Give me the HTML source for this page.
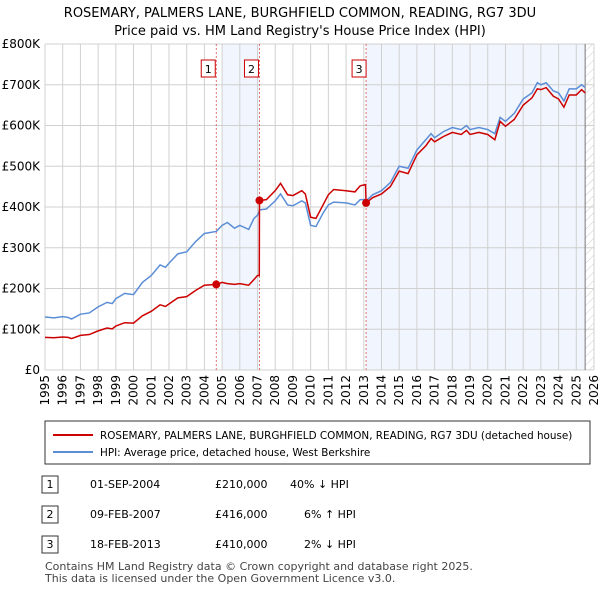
<!DOCTYPE html>
<html><head><meta charset="utf-8"><style>
body{margin:0;background:#fff;font-family:"DejaVu Sans","Liberation Sans",sans-serif;}
svg{display:block}
</style></head><body>
<svg id="c" width="600" height="590" font-family="DejaVu Sans, Liberation Sans, sans-serif">
<text x="300" y="17" text-anchor="middle" font-size="13">ROSEMARY, PALMERS LANE, BURGHFIELD COMMON, READING, RG7 3DU</text>
<text x="300" y="35" text-anchor="middle" font-size="13">Price paid vs. HM Land Registry's House Price Index (HPI)</text>
<g id="plot"></g>
<rect x="45" y="421" width="545" height="43" fill="#fff" stroke="#333"/>
<line x1="53" y1="435" x2="93" y2="435" stroke="#cc0000" stroke-width="2"/>
<text x="100" y="439" font-size="10.4">ROSEMARY, PALMERS LANE, BURGHFIELD COMMON, READING, RG7 3DU (detached house)</text>
<line x1="53" y1="452" x2="93" y2="452" stroke="#5b8ed6" stroke-width="2"/>
<text x="100" y="456" font-size="10.4">HPI: Average price, detached house, West Berkshire</text>
<g font-size="11">
<rect x="42" y="476" width="16" height="17" fill="#fff" stroke="#333"/><text x="50" y="488" text-anchor="middle">1</text>
<text x="90" y="488">01-SEP-2004</text><text x="215" y="488">£210,000</text><text x="290" y="488">40% ↓ HPI</text>
<rect x="42" y="506" width="16" height="17" fill="#fff" stroke="#333"/><text x="50" y="518" text-anchor="middle">2</text>
<text x="90" y="518">09-FEB-2007</text><text x="215" y="518">£416,000</text><text x="304" y="518">6% ↑ HPI</text>
<rect x="42" y="536" width="16" height="17" fill="#fff" stroke="#333"/><text x="50" y="548" text-anchor="middle">3</text>
<text x="90" y="548">18-FEB-2013</text><text x="215" y="548">£410,000</text><text x="304" y="548">2% ↓ HPI</text>
</g>
<text x="45" y="570" font-size="11" fill="#444">Contains HM Land Registry data © Crown copyright and database right 2025.</text>
<text x="45" y="582" font-size="11" fill="#444">This data is licensed under the Open Government Licence v3.0.</text>
</svg>
<script>
const yTicks=[0,100,200,300,400,500,600,700,800];
const yTickLabels=["£0","£100K","£200K","£300K","£400K","£500K","£600K","£700K","£800K"];
const xYears=[1995,1996,1997,1998,1999,2000,2001,2002,2003,2004,2005,2006,2007,2008,2009,2010,2011,2012,2013,2014,2015,2016,2017,2018,2019,2020,2021,2022,2023,2024,2025,2026];
const times=[1995,1995.5,1996,1996.3,1996.5,1997,1997.5,1998,1998.5,1998.8,1999,1999.5,2000,2000.5,2001,2001.5,2001.8,2002,2002.5,2003,2003.5,2004,2004.67,2005,2005.3,2005.7,2006,2006.5,2006.8,2007,2007.1,2007.11,2007.5,2008,2008.3,2008.7,2009,2009.5,2009.7,2010,2010.3,2010.7,2011,2011.3,2012,2012.5,2012.8,2013.1,2013.13,2013.5,2014,2014.5,2015,2015.5,2016,2016.5,2016.8,2017,2017.5,2018,2018.5,2018.8,2019,2019.5,2020,2020.4,2020.7,2021,2021.5,2022,2022.5,2022.8,2023,2023.3,2023.7,2024,2024.3,2024.6,2025,2025.3,2025.5];
const hpi=[130,128,131,129,125,137,140,155,166,163,175,188,185,215,232,258,252,262,285,290,315,335,340,355,362,348,355,345,372,380,390,393,395,415,432,405,403,415,410,355,352,385,405,412,410,405,418,418,415,430,440,460,500,495,540,565,580,570,585,595,590,600,590,595,590,580,620,610,630,665,680,705,700,705,685,680,660,690,690,700,693];
const red=[80,79,81,80,77,85,87,96,103,101,108,116,115,133,144,160,156,162,177,180,195,208,210,215,212,210,212,208,222,232,232,416,418,440,458,430,428,440,432,375,372,405,430,443,440,437,452,455,410,423,432,450,488,482,528,550,568,560,573,583,578,588,578,583,578,565,610,598,615,650,668,690,688,693,672,665,645,675,675,688,680];
const sales=[[2004.67,210,"1"],[2007.11,416,"2"],[2013.13,410,"3"]];
const X=t=>45+(t-1995)*(549/31), Y=v=>370-v*0.4075;
const NS="http://www.w3.org/2000/svg", g=document.getElementById('plot');
function mk(tag,attrs,parent){const e=document.createElementNS(NS,tag);for(const k in attrs)e.setAttribute(k,attrs[k]);(parent||g).appendChild(e);return e;}
let e;
e=mk('rect',{x:X(2005),y:44,width:X(2007.11)-X(2005),height:326,fill:'#f1f5fd'});


e=mk('rect',{x:X(2013.13),y:44,width:X(2025.5)-X(2013.13),height:326,fill:'#f1f5fd'});


const defs=mk('defs',{});
const pat=mk('pattern',{id:'h',width:6,height:6,patternUnits:'userSpaceOnUse',patternTransform:'rotate(45)'},defs);
mk('line',{x1:0,y1:0,x2:0,y2:6,stroke:'#ccc','stroke-width':1},pat);
e=mk('rect',{x:X(2025.5),y:44,width:594-X(2025.5),height:326,fill:'url(#h)'});


xYears.forEach(y=>{e=mk('line',{x1:X(y),y1:44,x2:X(y),y2:370,stroke:'#d0d0d0'});


e=mk('text',{x:0,y:0,transform:`translate(${X(y)+4},${375}) rotate(-90)`,'text-anchor':'end','font-size':12});e.textContent=y;

});
yTicks.forEach((v,i)=>{e=mk('line',{x1:45,y1:Y(v),x2:594,y2:Y(v),stroke:'#d0d0d0'});


e=mk('text',{x:40,y:Y(v)+4,'text-anchor':'end','font-size':12});e.textContent=yTickLabels[i];

});
e=mk('line',{x1:X(2025.5),y1:44,x2:X(2025.5),y2:370,stroke:'#777'});


sales.forEach(s=>{e=mk('line',{x1:X(s[0]),y1:44,x2:X(s[0]),y2:370,stroke:'#e05050','stroke-dasharray':'2,2','stroke-width':0.8});


e=mk('rect',{x:X(s[0])-(s[2]=="3"?14:15),y:60,width:14,height:17,fill:'#fff',stroke:'#cc0000'});


e=mk('text',{x:X(s[0])-(s[2]=="3"?7:8),y:73,'text-anchor':'middle','font-size':11});e.textContent=s[2];

});
e=mk('polyline',{points:times.map((t,i)=>X(t)+','+Y(hpi[i])).join(' '),fill:'none',stroke:'#5b8ed6','stroke-width':1.5});


e=mk('polyline',{points:times.map((t,i)=>X(t)+','+Y(red[i])).join(' '),fill:'none',stroke:'#cc0000','stroke-width':1.5});


sales.forEach(s=>{e=mk('circle',{cx:X(s[0]),cy:Y(s[1]),r:4,fill:'#cc0000'});

});
</script>
</body></html>
